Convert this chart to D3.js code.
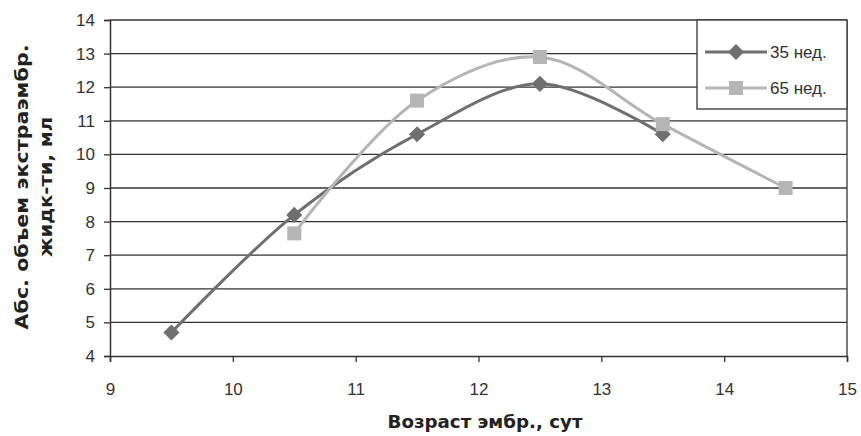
<!DOCTYPE html>
<html>
<head>
<meta charset="utf-8">
<script src="https://cdn.jsdelivr.net/npm/d3@7"></script>
<style>
  body { margin: 0; background: #fff; }
  text { font-family: "Liberation Sans", Arial, sans-serif; fill: #333; }
</style>
</head>
<body>
<div id="chart"></div>
<script>
var seriesNames = ["35 нед.", "65 нед."];
var age35 = [9.5, 10.5, 11.5, 12.5, 13.5];
var vol35 = [4.7, 8.2, 10.6, 12.1, 10.6];
var age65 = [10.5, 11.5, 12.5, 13.5, 14.5];
var vol65 = [7.65, 11.6, 12.9, 10.9, 9.0];
var xTicks = [9, 10, 11, 12, 13, 14, 15];
var yTicks = [4, 5, 6, 7, 8, 9, 10, 11, 12, 13, 14];

var width = 861, height = 436;
var plotLeft = 110, plotRight = 847, plotTop = 20, plotBottom = 356;

var svg = d3.select("#chart").append("svg")
            .attr("width", width)
            .attr("height", height);

var x = d3.scaleLinear().domain([9, 15]).range([plotLeft, plotRight]);
var y = d3.scaleLinear().domain([4, 14]).range([plotBottom, plotTop]);

// gridlines
svg.selectAll("line.grid")
   .data(yTicks.slice(1))
   .enter().append("line")
   .attr("x1", plotLeft).attr("x2", plotRight)
   .attr("y1", function (d) { return y(d); })
   .attr("y2", function (d) { return y(d); })
   .style("stroke", "#333")
   .style("stroke-width", 1.3);

svg.append("line")
   .attr("x1", plotRight).attr("x2", plotRight).attr("y1", plotTop).attr("y2", plotBottom)
   .style("stroke", "#333").style("stroke-width", 1.3);

var yAxis = svg.append("g")
   .attr("transform", "translate(" + plotLeft + ",0)")
   .call(d3.axisLeft(y).tickValues(yTicks).tickFormat(d3.format("d")).tickSize(6).tickPadding(9));
var xAxis = svg.append("g")
   .attr("transform", "translate(0," + plotBottom + ")")
   .call(d3.axisBottom(x).tickValues(xTicks).tickFormat(d3.format("d")).tickSize(6).tickPadding(21));

[yAxis, xAxis].forEach(function (a) {
  a.select(".domain").style("stroke", "#333").style("stroke-width", 1.5);
  a.selectAll(".tick line").style("stroke", "#333").style("stroke-width", 1.3);
  a.selectAll(".tick text").style("font-size", "17px").style("fill", "#333")
   .style("font-family", "'Liberation Sans', Arial, sans-serif");
});

var line = d3.line()
   .x(function (d) { return x(d[0]); })
   .y(function (d) { return y(d[1]); })
   .curve(d3.curveCatmullRom.alpha(0.5));

var s35 = d3.zip(age35, vol35);
var s65 = d3.zip(age65, vol65);
var dark = "#6f6f6f", light = "#b5b5b5";

svg.append("path").datum(s35).attr("d", line)
   .style("fill", "none").style("stroke", dark).style("stroke-width", 3);
svg.append("path").datum(s65).attr("d", line)
   .style("fill", "none").style("stroke", light).style("stroke-width", 3);

var diamond = d3.symbol().type(d3.symbolSquare).size(130);
svg.selectAll("path.m35").data(s35).enter().append("path")
   .attr("d", diamond)
   .attr("transform", function (d) { return "translate(" + x(d[0]) + "," + y(d[1]) + ") rotate(45)"; })
   .style("fill", dark);
svg.selectAll("rect.m65").data(s65).enter().append("rect")
   .attr("x", function (d) { return x(d[0]) - 7; })
   .attr("y", function (d) { return y(d[1]) - 7; })
   .attr("width", 14).attr("height", 14)
   .style("fill", light);

// legend
var lg = svg.append("g");
lg.append("rect").attr("x", 697).attr("y", plotTop).attr("width", plotRight - 697).attr("height", 89)
  .style("fill", "#fff").style("stroke", "#333").style("stroke-width", 1.3);
var items = [{ name: seriesNames[0], color: dark, mark: "d" }, { name: seriesNames[1], color: light, mark: "s" }];
items.forEach(function (it, i) {
  var cy = 52 + i * 36;
  lg.append("line").attr("x1", 705).attr("x2", 767).attr("y1", cy).attr("y2", cy)
    .style("stroke", it.color).style("stroke-width", 3);
  if (it.mark === "d") {
    lg.append("path").attr("d", diamond)
      .attr("transform", "translate(736," + cy + ") rotate(45)").style("fill", it.color);
  } else {
    lg.append("rect").attr("x", 729).attr("y", cy - 7).attr("width", 14).attr("height", 14)
      .style("fill", it.color);
  }
  lg.append("text").attr("x", 770).attr("y", cy + 6).text(it.name).style("font-size", "17px");
});

// axis titles
var titleFont = "'DejaVu Sans', sans-serif";
var yt = svg.append("text")
   .attr("transform", "translate(28,187) rotate(-90)")
   .style("font-family", titleFont)
   .style("font-size", "18px").style("font-weight", "bold").style("fill", "#222")
   .attr("text-anchor", "middle");
yt.append("tspan").attr("x", 0).attr("dy", 0)
  .attr("textLength", 285).attr("lengthAdjust", "spacingAndGlyphs").text("Абс. объем экстраэмбр.");
yt.append("tspan").attr("x", 0).attr("dy", 24)
  .attr("textLength", 140).attr("lengthAdjust", "spacingAndGlyphs").text("жидк-ти, мл");

svg.append("text").attr("x", 485).attr("y", 428)
   .attr("text-anchor", "middle")
   .attr("textLength", 195).attr("lengthAdjust", "spacingAndGlyphs")
   .style("font-family", titleFont)
   .style("font-size", "17px").style("font-weight", "bold").style("fill", "#222")
   .text("Возраст эмбр., сут");
</script>
</body>
</html>
